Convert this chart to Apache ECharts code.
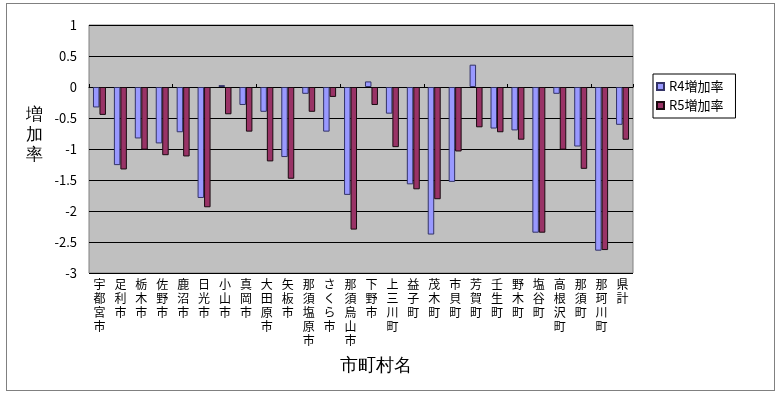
<!DOCTYPE html>
<html>
<head>
<meta charset="utf-8">
<script src="https://cdn.jsdelivr.net/npm/echarts@6/dist/echarts.min.js"></script>
<style>
html,body{margin:0;padding:0;background:#fff;}
#frame{position:absolute;left:6px;top:3px;width:767px;height:386px;border:1px solid #808080;box-sizing:content-box;}
#chart{position:absolute;left:0;top:0;width:778px;height:395px;}
</style>
</head>
<body>
<div id="frame"></div>
<div id="chart"></div>
<script>
const categories = ['宇都宮市','足利市','栃木市','佐野市','鹿沼市','日光市','小山市','真岡市','大田原市','矢板市','那須塩原市','さくら市','那須烏山市','下野市','上三川町','益子町','茂木町','市貝町','芳賀町','壬生町','野木町','塩谷町','高根沢町','那須町','那珂川町','県計'];
const seriesNames = ['R4増加率','R5増加率'];
const r4 = [-0.33,-1.26,-0.83,-0.91,-0.73,-1.79,0.03,-0.29,-0.40,-1.13,-0.11,-0.72,-1.74,0.09,-0.43,-1.57,-2.38,-1.53,0.36,-0.67,-0.70,-2.35,-0.11,-0.96,-2.64,-0.61];
const r5 = [-0.45,-1.33,-1.01,-1.10,-1.12,-1.94,-0.44,-0.72,-1.20,-1.48,-0.40,-0.16,-2.30,-0.29,-0.97,-1.65,-1.81,-1.04,-0.65,-0.73,-0.85,-2.35,-1.01,-1.32,-2.63,-0.85];
const yTicks = [1,0.5,0,-0.5,-1,-1.5,-2,-2.5,-3];
const yTitle = '増加率';
const xTitle = '市町村名';

const chart = echarts.init(document.getElementById('chart'), null, {renderer:'canvas'});
const font = '"Noto Sans CJK JP","Noto Sans",sans-serif';
chart.setOption({
  animation:false,
  textStyle:{fontFamily:font},
  grid:{left:89,right:145,top:25,bottom:122,show:true,backgroundColor:'#C0C0C0',borderColor:'#808080',borderWidth:1},
  legend:{
    orient:'vertical',left:653,top:74,
    data:seriesNames,
    itemWidth:7,itemHeight:7,itemGap:6,
    borderColor:'#000',borderWidth:1,padding:[6,12,6,3],
    textStyle:{fontSize:13,color:'#000',fontFamily:font},
    icon:'rect'
  },
  xAxis:[{
    type:'category',data:categories,position:'bottom',
    axisLine:{show:false,onZero:false},axisTick:{show:false},
    axisLabel:{interval:0,fontSize:12,lineHeight:14,color:'#000',margin:4,verticalAlign:'top',
      formatter:v=>v.split('').join('\n')}
  },{
    type:'category',data:categories,position:'top',
    axisLine:{show:true,onZero:true,lineStyle:{color:'#000',width:1}},
    axisTick:{show:true,length:3,lineStyle:{color:'#000'}},
    axisLabel:{show:false}
  }],
  yAxis:{
    type:'value',min:-3,max:1,interval:0.5,
    axisLine:{show:false},axisTick:{show:false},
    splitLine:{lineStyle:{color:'#000',width:1}},
    axisLabel:{fontSize:13,color:'#000',margin:12,formatter:v=>String(v)}
  },
  graphic:[
    {type:'text',left:26,top:105,style:{text:yTitle.split('').join('\n'),fontSize:17,lineHeight:20,fill:'#000',font:'17px '+font}},
    {type:'text',left:340,top:357,style:{text:xTitle,fontSize:18,fill:'#000',font:'18px '+font}}
  ],
  series:[
    {name:seriesNames[0],type:'bar',data:r4,barGap:'0%',barCategoryGap:'38%',
     itemStyle:{color:'#9999FF',borderColor:'#333366',borderWidth:1}},
    {name:seriesNames[1],type:'bar',data:r5,
     itemStyle:{color:'#993366',borderColor:'#1a0a10',borderWidth:1}}
  ]
});
</script>
</body>
</html>
